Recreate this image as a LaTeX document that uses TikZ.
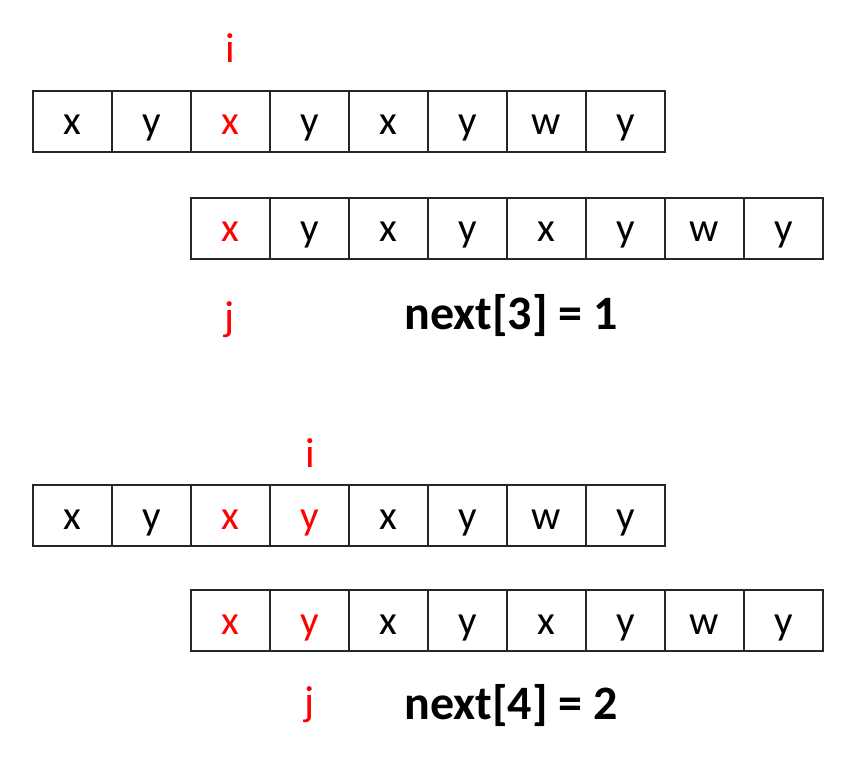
\documentclass[tikz,border=0pt]{standalone}
\usepackage{fontspec}
\setmainfont{Carlito}
\begin{document}
\begin{tikzpicture}[x=1pt,y=-1pt,
  cell/.style={draw=black!85,line width=1.8pt,minimum width=79pt,minimum height=61pt,inner sep=0pt,outer sep=0pt,anchor=north west},
  lbl/.style={inner sep=0pt,anchor=base,font=\fontsize{41}{44}\selectfont},
  ptr/.style={text=red,font=\fontsize{42}{46}\selectfont,inner sep=0pt},
  res/.style={font=\fontsize{48}{52}\selectfont\bfseries,inner sep=0pt}]
\useasboundingbox (0,0) rectangle (855,773);
% row 1
\foreach \c [count=\k from 0] in {x,y,x,y,x,y,w,y}{
  \node[cell] (a\k) at (33+79*\k,91) {};
  \ifnum\k=2 \node[lbl,text=red] at ([yshift=-44pt]a\k.north) {\c};
  \else \node[lbl] at ([yshift=-44pt]a\k.north) {\c};\fi
}
% row 2
\foreach \c [count=\k from 0] in {x,y,x,y,x,y,w,y}{
  \node[cell] (b\k) at (191+79*\k,198) {};
  \ifnum\k=0 \node[lbl,text=red] at ([yshift=-44pt]b\k.north) {\c};
  \else \node[lbl] at ([yshift=-44pt]b\k.north) {\c};\fi
}
\node[ptr] (i1) at (230,48) {i};
\node[ptr] (j1) at (230,320) {j};
\node[res] (n1) at (511,316) {next[3] = 1};
% row 3
\foreach \c [count=\k from 0] in {x,y,x,y,x,y,w,y}{
  \node[cell] (c\k) at (33+79*\k,485) {};
  \ifnum\k=2 \node[lbl,text=red] at ([yshift=-44pt]c\k.north) {\c};
  \else\ifnum\k=3 \node[lbl,text=red] at ([yshift=-44pt]c\k.north) {\c};
  \else \node[lbl] at ([yshift=-44pt]c\k.north) {\c};\fi\fi
}
% row 4
\foreach \c [count=\k from 0] in {x,y,x,y,x,y,w,y}{
  \node[cell] (d\k) at (191+79*\k,590) {};
  \ifnum\k<2 \node[lbl,text=red] at ([yshift=-44pt]d\k.north) {\c};
  \else \node[lbl] at ([yshift=-44pt]d\k.north) {\c};\fi
}
\node[ptr] (i2) at (310,453) {i};
\node[ptr] (j2) at (310,705) {j};
\node[res] (n2) at (511,706) {next[4] = 2};
\end{tikzpicture}
\end{document}
